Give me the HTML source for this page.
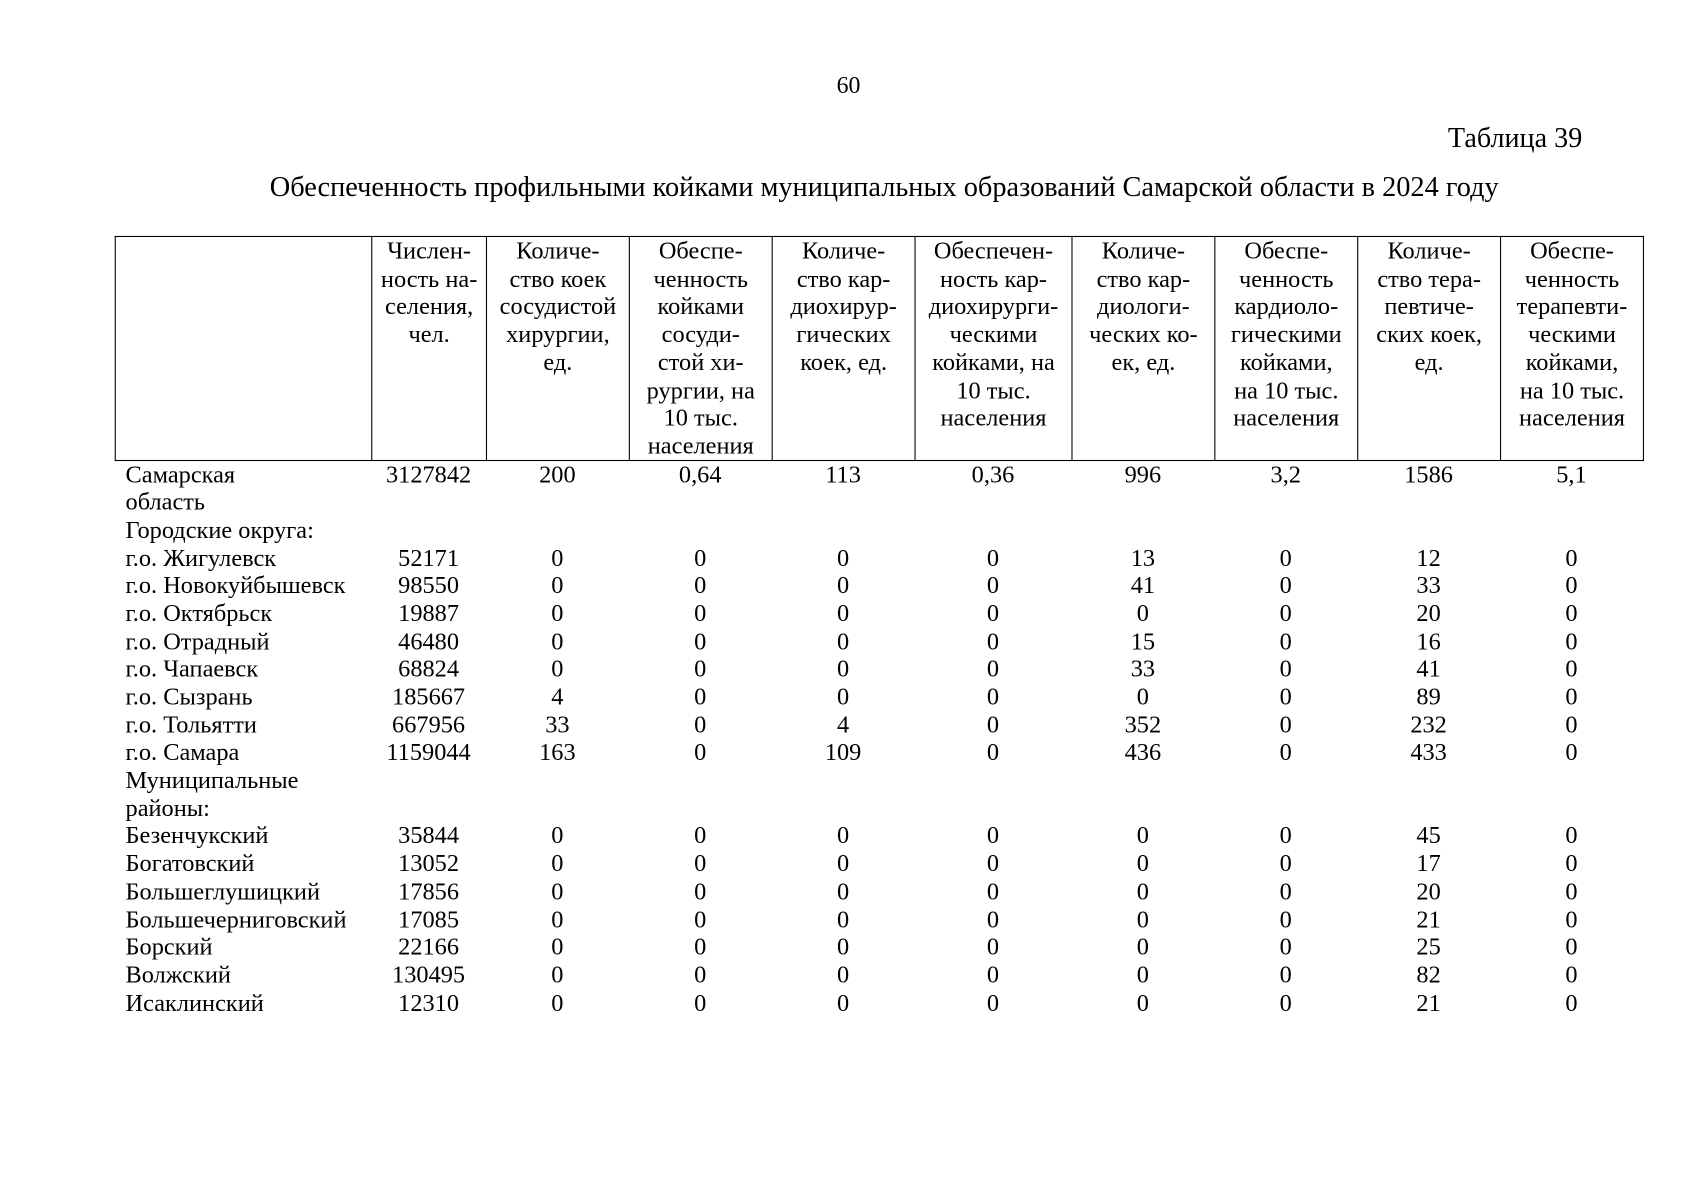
<!DOCTYPE html>
<html><head><meta charset="utf-8"><style>
html,body{margin:0;padding:0;background:#fff;}
body{width:1697px;height:1200px;overflow:hidden;}
#p{position:absolute;left:0;top:0;width:1568px;height:1109px;transform:scale(1.08227);transform-origin:0 0;font-family:"Liberation Serif","DejaVu Serif",serif;color:#000;}
.a{position:absolute;white-space:nowrap;}
table{position:absolute;left:106px;top:218px;border-collapse:collapse;font-size:22.5px;line-height:25.7px;}
td{border:1px solid #000;vertical-align:top;text-align:center;padding:0;height:205px;white-space:nowrap;}
.body{position:absolute;left:106px;top:425.5px;font-size:22.5px;line-height:25.7px;}
.r{display:flex;height:25.7px;white-space:nowrap;}
.r span{display:block;text-align:center;}
.r span:first-child{text-align:left;padding-left:10px;width:227px;}
</style></head><body><div id="p">
<div class="a" style="left:0;width:1568px;text-align:center;top:66px;font-size:22px;">60</div>
<div class="a" style="right:106px;top:113px;font-size:26px;">Таблица 39</div>
<div class="a" style="left:0;width:1634px;text-align:center;top:158px;font-size:26.2px;">Обеспеченность профильными койками муниципальных образований Самарской области в 2024 году</div>
<table><tr>
<td style="width:236px"></td>
<td style="width:105px">Числен-<br>ность на-<br>селения,<br>чел.</td>
<td style="width:131px">Количе-<br>ство коек<br>сосудистой<br>хирургии,<br>ед.</td>
<td style="width:131px">Обеспе-<br>ченность<br>койками<br>сосуди-<br>стой хи-<br>рургии, на<br>10 тыс.<br>населения</td>
<td style="width:131px">Количе-<br>ство кар-<br>диохирур-<br>гических<br>коек, ед.</td>
<td style="width:144px">Обеспечен-<br>ность кар-<br>диохирурги-<br>ческими<br>койками, на<br>10 тыс.<br>населения</td>
<td style="width:131px">Количе-<br>ство кар-<br>диологи-<br>ческих ко-<br>ек, ед.</td>
<td style="width:131px">Обеспе-<br>ченность<br>кардиоло-<br>гическими<br>койками,<br>на 10 тыс.<br>населения</td>
<td style="width:131px">Количе-<br>ство тера-<br>певтиче-<br>ских коек,<br>ед.</td>
<td style="width:131px">Обеспе-<br>ченность<br>терапевти-<br>ческими<br>койками,<br>на 10 тыс.<br>населения</td>
</tr></table>
<div class="body" id="b"></div>
</div>
<script>
var W=[237,106,132,132,132,145,132,132,132,132];
var rows=[["Самарская","3127842","200","0,64","113","0,36","996","3,2","1586","5,1"],["область"],["Городские округа:"],
["г.о. Жигулевск","52171","0","0","0","0","13","0","12","0"],
["г.о. Новокуйбышевск","98550","0","0","0","0","41","0","33","0"],
["г.о. Октябрьск","19887","0","0","0","0","0","0","20","0"],
["г.о. Отрадный","46480","0","0","0","0","15","0","16","0"],
["г.о. Чапаевск","68824","0","0","0","0","33","0","41","0"],
["г.о. Сызрань","185667","4","0","0","0","0","0","89","0"],
["г.о. Тольятти","667956","33","0","4","0","352","0","232","0"],
["г.о. Самара","1159044","163","0","109","0","436","0","433","0"],
["Муниципальные"],["районы:"],
["Безенчукский","35844","0","0","0","0","0","0","45","0"],
["Богатовский","13052","0","0","0","0","0","0","17","0"],
["Большеглушицкий","17856","0","0","0","0","0","0","20","0"],
["Большечерниговский","17085","0","0","0","0","0","0","21","0"],
["Борский","22166","0","0","0","0","0","0","25","0"],
["Волжский","130495","0","0","0","0","0","0","82","0"],
["Исаклинский","12310","0","0","0","0","0","0","21","0"]];
var h="";rows.forEach(function(r){h+='<div class="r">';r.forEach(function(c,i){h+='<span'+(i?' style="width:'+W[i]+'px"':'')+'>'+c+'</span>';});h+='</div>';});
document.getElementById("b").innerHTML=h;
</script>
</body></html>
